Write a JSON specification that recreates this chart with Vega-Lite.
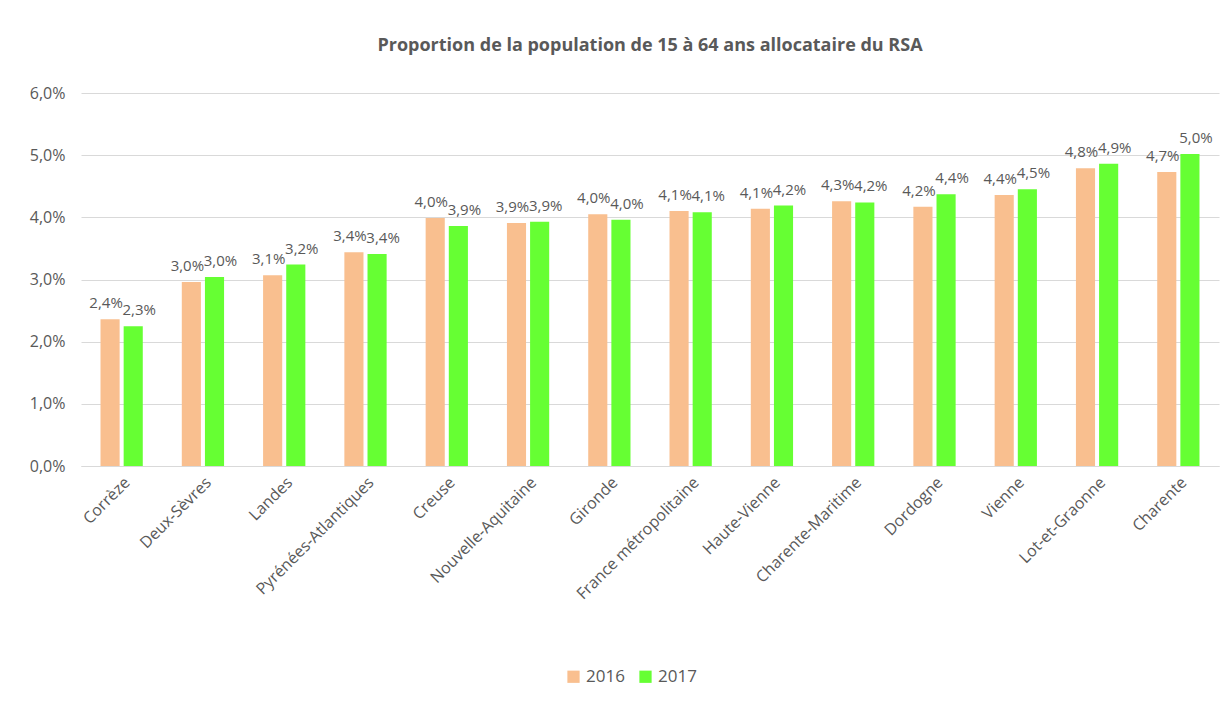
{
  "$schema": "https://vega.github.io/schema/vega-lite/v6.json",
  "width": 1138,
  "height": 373,
  "padding": {"left": 29, "top": 37, "right": 10, "bottom": 10},
  "background": "white",
  "config": {
    "locale": {"number": {"decimal": ",", "thousands": " ", "grouping": [3], "currency": ["", " €"]}},
    "font": "Open Sans",
    "view": {"stroke": null}
  },
  "title": {
    "text": "Proportion de la population de 15 à 64 ans allocataire du RSA",
    "fontSize": 18,
    "fontWeight": "bold",
    "color": "#595959",
    "font": "Open Sans",
    "offset": 30,
    "anchor": "middle"
  },
  "data": {
    "values": [
      {"territoire": "Corrèze", "annee": "2016", "taux": 0.0236},
      {"territoire": "Corrèze", "annee": "2017", "taux": 0.0225},
      {"territoire": "Deux-Sèvres", "annee": "2016", "taux": 0.0296},
      {"territoire": "Deux-Sèvres", "annee": "2017", "taux": 0.0304},
      {"territoire": "Landes", "annee": "2016", "taux": 0.0307},
      {"territoire": "Landes", "annee": "2017", "taux": 0.0324},
      {"territoire": "Pyrénées-Atlantiques", "annee": "2016", "taux": 0.0344},
      {"territoire": "Pyrénées-Atlantiques", "annee": "2017", "taux": 0.0341},
      {"territoire": "Creuse", "annee": "2016", "taux": 0.0399},
      {"territoire": "Creuse", "annee": "2017", "taux": 0.0386},
      {"territoire": "Nouvelle-Aquitaine", "annee": "2016", "taux": 0.0391},
      {"territoire": "Nouvelle-Aquitaine", "annee": "2017", "taux": 0.0393},
      {"territoire": "Gironde", "annee": "2016", "taux": 0.0405},
      {"territoire": "Gironde", "annee": "2017", "taux": 0.0396},
      {"territoire": "France métropolitaine", "annee": "2016", "taux": 0.0410},
      {"territoire": "France métropolitaine", "annee": "2017", "taux": 0.0408},
      {"territoire": "Haute-Vienne", "annee": "2016", "taux": 0.0414},
      {"territoire": "Haute-Vienne", "annee": "2017", "taux": 0.0419},
      {"territoire": "Charente-Maritime", "annee": "2016", "taux": 0.0426},
      {"territoire": "Charente-Maritime", "annee": "2017", "taux": 0.0424},
      {"territoire": "Dordogne", "annee": "2016", "taux": 0.0417},
      {"territoire": "Dordogne", "annee": "2017", "taux": 0.0437},
      {"territoire": "Vienne", "annee": "2016", "taux": 0.0436},
      {"territoire": "Vienne", "annee": "2017", "taux": 0.0445},
      {"territoire": "Lot-et-Graonne", "annee": "2016", "taux": 0.0479},
      {"territoire": "Lot-et-Graonne", "annee": "2017", "taux": 0.0486},
      {"territoire": "Charente", "annee": "2016", "taux": 0.0473},
      {"territoire": "Charente", "annee": "2017", "taux": 0.0502}
    ]
  },
  "encoding": {
    "x": {
      "field": "territoire",
      "type": "nominal",
      "sort": null,
      "title": null,
      "scale": {"paddingInner": 0.48, "paddingOuter": 0.24},
      "axis": {
        "labelAngle": -45,
        "labelFontSize": 16,
        "labelColor": "#595959",
        "labelPadding": 8,
        "ticks": false,
        "domainColor": "#d9d9d9",
        "labelFont": "Open Sans"
      }
    },
    "xOffset": {
      "field": "annee",
      "type": "nominal",
      "scale": {"paddingInner": 0.174, "paddingOuter": 0}
    },
    "y": {
      "field": "taux",
      "type": "quantitative",
      "title": null,
      "scale": {"domain": [0, 0.06]},
      "axis": {
        "format": ".1%",
        "values": [0, 0.01, 0.02, 0.03, 0.04, 0.05, 0.06],
        "labelFontSize": 16,
        "labelColor": "#595959",
        "labelPadding": 16,
        "ticks": false,
        "domain": false,
        "gridColor": "#d9d9d9",
        "labelFont": "Open Sans"
      }
    }
  },
  "layer": [
    {
      "mark": {"type": "bar"},
      "encoding": {
        "color": {
          "field": "annee",
          "type": "nominal",
          "scale": {"domain": ["2016", "2017"], "range": ["#f9bf8f", "#66ff33"]},
          "legend": {
            "orient": "none",
            "legendX": 484,
            "legendY": 575,
            "title": null,
            "direction": "horizontal",
            "symbolType": "square",
            "symbolSize": 150,
            "symbolStrokeWidth": 0,
            "labelFontSize": 17,
            "labelColor": "#595959",
            "labelFont": "Open Sans",
            "columnPadding": 12
          }
        }
      }
    },
    {
      "transform": [{"filter": "datum.annee == '2016'"}],
      "mark": {"type": "text", "dy": -16, "dx": -4, "fontSize": 15, "color": "#595959", "font": "Open Sans"},
      "encoding": {
        "text": {"field": "taux", "type": "quantitative", "format": ".1%"}
      }
    },
    {
      "transform": [{"filter": "datum.annee == '2017'"}],
      "mark": {"type": "text", "dy": -16, "dx": 6, "fontSize": 15, "color": "#595959", "font": "Open Sans"},
      "encoding": {
        "text": {"field": "taux", "type": "quantitative", "format": ".1%"}
      }
    }
  ]
}
